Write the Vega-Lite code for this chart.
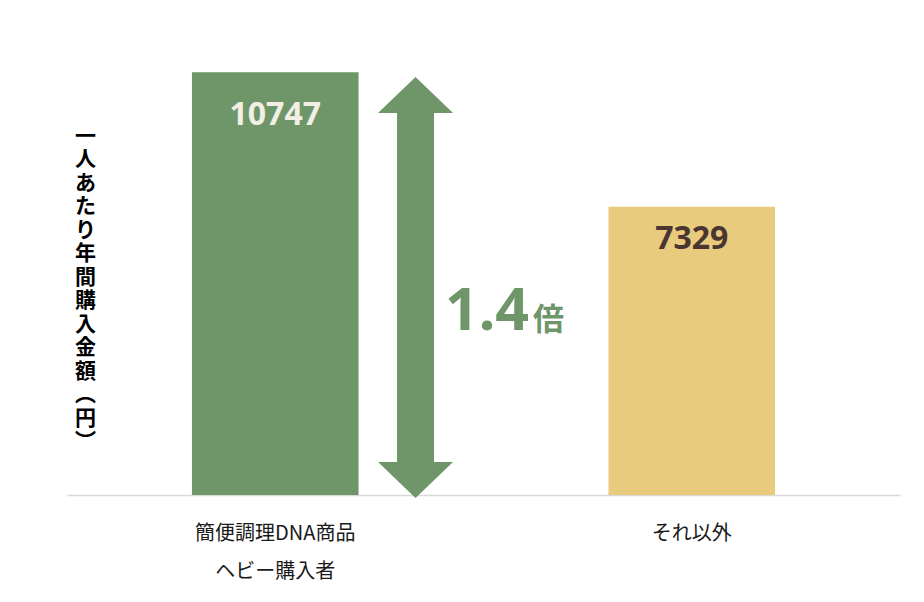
{
  "$schema": "https://vega.github.io/schema/vega-lite/v6.json",
  "width": 833,
  "height": 472,
  "autosize": {"type": "none"},
  "padding": {"left": 67, "top": 23, "right": 24, "bottom": 107},
  "background": "white",
  "config": {"view": {"stroke": null}, "font": "Noto Sans CJK JP"},
  "datasets": {
    "bars": [
      {"group": "簡便調理DNA商品\nヘビー購入者", "amount": 10747},
      {"group": "それ以外", "amount": 7329}
    ],
    "arrow": [
      {"group": "簡便調理DNA商品\nヘビー購入者", "from": 839, "to": 9712}
    ],
    "note": [
      {"group": "簡便調理DNA商品\nヘビー購入者", "level": 4195, "ratio": "1.4", "unit": "倍"}
    ]
  },
  "layer": [
    {
      "data": {"name": "bars"},
      "mark": {"type": "bar"},
      "encoding": {
        "x": {
          "field": "group", "type": "nominal", "sort": null,
          "scale": {"paddingInner": 0.6, "paddingOuter": 0.3},
          "axis": {
            "title": null,
            "labelAngle": 0,
            "labelExpr": "split(datum.label, '\\n')",
            "labelFont": "Noto Sans CJK JP",
            "labelFontSize": 20,
            "labelColor": "#1a1a1a",
            "labelLineHeight": 38,
            "labelBaseline": "top",
            "labelPadding": 28,
            "labelLimit": 400,
            "ticks": false,
            "domainColor": "#d9d9d9",
            "domainWidth": 1.5
          }
        },
        "y": {
          "field": "amount", "type": "quantitative",
          "scale": {"domain": [0, 12000]},
          "axis": {
            "title": ["一", "人", "あ", "た", "り", "年", "間", "購", "入", "金", "額", "︵", "円", "︶"],
            "titleAngle": 0,
            "titleX": 18,
            "titleY": 113,
            "titleAlign": "center",
            "titleBaseline": "middle",
            "titleFont": "Noto Sans CJK JP",
            "titleFontSize": 21,
            "titleFontWeight": "bold",
            "titleColor": "#000000",
            "titleLineHeight": 23.5,
            "labels": false,
            "ticks": false,
            "domain": false,
            "grid": false
          }
        },
        "color": {
          "field": "group", "type": "nominal", "sort": null,
          "scale": {"range": ["#6F9669", "#E9CB7E"]},
          "legend": null
        }
      }
    },
    {
      "data": {"name": "bars"},
      "transform": [{"filter": "datum.amount > 10000"}],
      "mark": {"type": "text", "font": "Noto Sans", "fontWeight": "bold", "fontSize": 32, "baseline": "alphabetic", "dy": 53, "fill": "#F3EFE6"},
      "encoding": {
        "x": {"field": "group", "type": "nominal", "sort": null},
        "y": {"field": "amount", "type": "quantitative"},
        "text": {"field": "amount", "type": "quantitative", "format": "d"}
      }
    },
    {
      "data": {"name": "bars"},
      "transform": [{"filter": "datum.amount < 10000"}],
      "mark": {"type": "text", "font": "Noto Sans", "fontWeight": "bold", "fontSize": 32, "baseline": "alphabetic", "dy": 42, "fill": "#4A3530"},
      "encoding": {
        "x": {"field": "group", "type": "nominal", "sort": null},
        "y": {"field": "amount", "type": "quantitative"},
        "text": {"field": "amount", "type": "quantitative", "format": "d"}
      }
    },
    {
      "data": {"name": "arrow"},
      "mark": {"type": "rule", "strokeWidth": 37, "color": "#6F9669", "strokeCap": "butt"},
      "encoding": {
        "x": {"field": "group", "type": "nominal", "sort": null, "bandPosition": 1.342},
        "y": {"field": "from", "type": "quantitative"},
        "y2": {"field": "to"}
      }
    },
    {
      "data": {"name": "arrow"},
      "mark": {"type": "point", "shape": "M-1,0L0,-0.96L1,0Z", "size": 5625, "filled": true, "opacity": 1, "color": "#6F9669"},
      "encoding": {
        "x": {"field": "group", "type": "nominal", "sort": null, "bandPosition": 1.342},
        "y": {"field": "to", "type": "quantitative"}
      }
    },
    {
      "data": {"name": "arrow"},
      "mark": {"type": "point", "shape": "M-1,0L0,0.96L1,0Z", "size": 5625, "filled": true, "opacity": 1, "color": "#6F9669"},
      "encoding": {
        "x": {"field": "group", "type": "nominal", "sort": null, "bandPosition": 1.342},
        "y": {"field": "from", "type": "quantitative"}
      }
    },
    {
      "data": {"name": "note"},
      "mark": {"type": "text", "font": "Noto Sans", "fontWeight": "bold", "fontSize": 59, "align": "left", "baseline": "alphabetic", "fill": "#6F9669"},
      "encoding": {
        "x": {"field": "group", "type": "nominal", "sort": null, "bandPosition": 1.519},
        "y": {"field": "level", "type": "quantitative"},
        "text": {"field": "ratio"}
      }
    },
    {
      "data": {"name": "note"},
      "mark": {"type": "text", "font": "Noto Sans CJK JP", "fontWeight": "bold", "fontSize": 31, "align": "left", "baseline": "alphabetic", "fill": "#6F9669"},
      "encoding": {
        "x": {"field": "group", "type": "nominal", "sort": null, "bandPosition": 2.047},
        "y": {"field": "level", "type": "quantitative"},
        "text": {"field": "unit"}
      }
    }
  ]
}
